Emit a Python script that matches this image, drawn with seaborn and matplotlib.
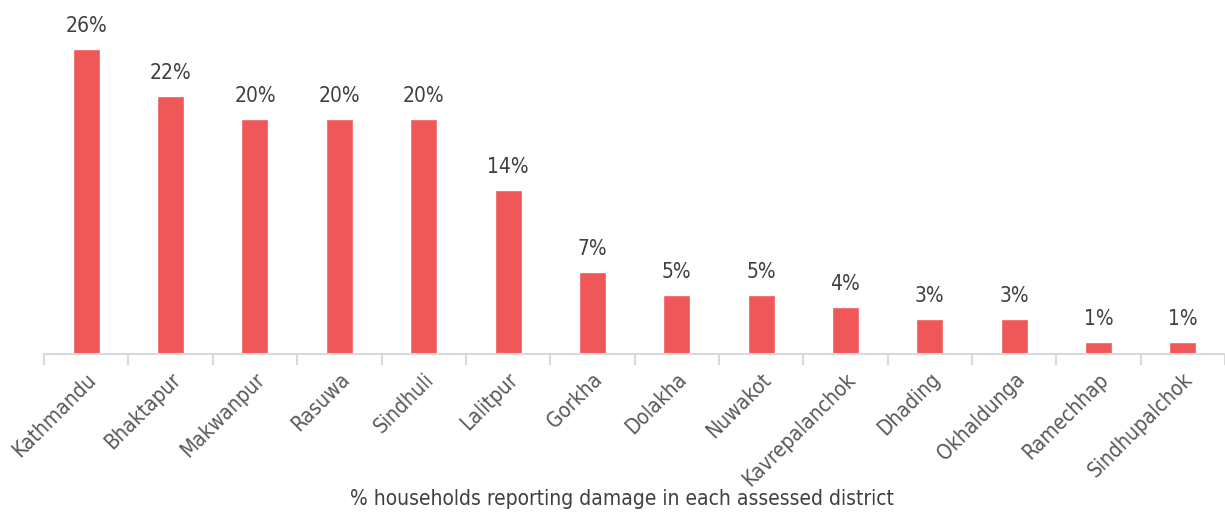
import matplotlib.pyplot as plt
import seaborn as sns
import pandas as pd
import numpy as np

districts = ["Kathmandu", "Bhaktapur", "Makwanpur", "Rasuwa", "Sindhuli", "Lalitpur",
             "Gorkha", "Dolakha", "Nuwakot", "Kavrepalanchok", "Dhading", "Okhaldunga",
             "Ramechhap", "Sindhupalchok"]
damage_pct = [26, 22, 20, 20, 20, 14, 7, 5, 5, 4, 3, 3, 1, 1]

sns.set_style("white")
plt.rcParams['font.family'] = ['DejaVu Sans']
plt.rcParams['font.stretch'] = 'condensed'

df = pd.DataFrame({"district": districts, "pct": damage_pct})

fig = plt.figure(figsize=(12.25, 5.16), dpi=100)
ax = fig.add_axes([0.036, 0.314, 0.964, 0.682])
sns.barplot(data=df, x="district", y="pct", color="#EF5758", width=0.32,
            saturation=1, ax=ax)
ax.set_ylim(0, 30)
ax.set_xlim(-0.5, len(districts) - 0.5)

# value labels above bars
for i, v in enumerate(damage_pct):
    ax.text(i, v + 1.1, f"{v}%", ha="center", va="bottom", fontsize=15, color="#404040")

for s in ["top", "right", "left"]:
    ax.spines[s].set_visible(False)
ax.spines["bottom"].set_color("#d9d9d9")
ax.spines["bottom"].set_linewidth(1.5)
ax.set_yticks([])
ax.set_xticks(np.arange(-0.5, len(districts)), minor=True)
ax.tick_params(axis="x", which="minor", bottom=True, length=8, color="#d9d9d9", width=1.5)
ax.tick_params(axis="x", which="major", bottom=False, length=0, pad=11)
ax.set_xticks(range(len(districts)))
ax.set_xticklabels(districts, rotation=45, ha="right", rotation_mode="anchor",
                   fontsize=15, color="#595959")
ax.set_xlabel("% households reporting damage in each assessed district",
              fontsize=15, color="#404040", labelpad=0)
ax.xaxis.set_label_coords(0.489, -0.385)
ax.set_ylabel("")

plt.savefig("out.png", dpi=100)
